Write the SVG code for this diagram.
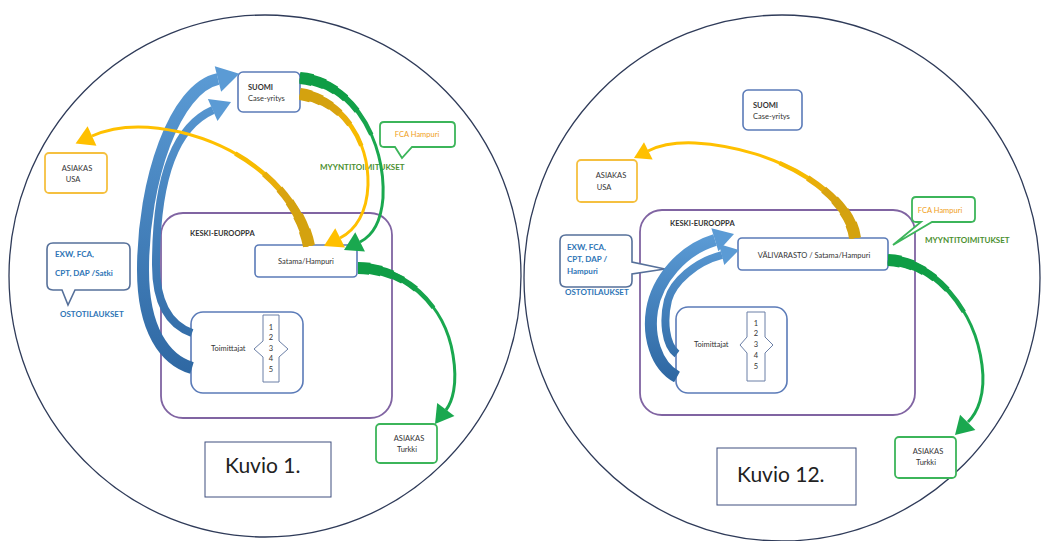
<svg xmlns="http://www.w3.org/2000/svg" xmlns:xlink="http://www.w3.org/1999/xlink" width="1045" height="541" viewBox="0 0 1045 541">
<style>
.circ{fill:none;stroke:#2f3b59;stroke-width:1.3}
.box{fill:#fff;stroke:#5b7bb8;stroke-width:1.6}
.cont{fill:none;stroke:#8064a2;stroke-width:1.8}
.ybox{fill:#fff;stroke:#f5c040;stroke-width:1.8}
.gbox{fill:#fff;stroke:#3cb55a;stroke-width:1.8}
.kbox{fill:#fff;stroke:#3f4f7f;stroke-width:1}
.bcall{fill:#fff;stroke:#56709a;stroke-width:1.6}
.t{font-family:Lato,"Liberation Sans",sans-serif;font-size:7.5px;fill:#333}
.b{font-weight:bold}
.blue{fill:#2e75b6;font-weight:bold;font-size:8px}
.grn{fill:#4b8f2f;font-weight:bold;font-size:8px}
.org{fill:#f0a020}
.k{font-family:Lato,"Liberation Sans",sans-serif;font-size:21px;fill:#222}
.ln{fill:none;stroke-linecap:butt}
.col{fill:#fff;stroke:#6b7fa6;stroke-width:1}
.y0{stroke:#ffc000;stroke-width:3}
.y1{stroke:#f7bb00;stroke-width:4.5;stroke-dasharray:45 200}
.y2{stroke:#e8ae0a;stroke-width:6;stroke-dasharray:32 200}
.y3{stroke:#d9a30f;stroke-width:7.5;stroke-dasharray:24 200}
.y4{stroke:#d4a20f;stroke-width:9;stroke-dasharray:18 200}
.y5{stroke:#d4a20f;stroke-width:10.5;stroke-dasharray:12 200}
.y6{stroke:#d4a20f;stroke-width:12;stroke-dasharray:6 200}
.g0{stroke:#1aa84f;stroke-width:3}
.g1{stroke:#17a44c;stroke-width:4.5;stroke-dasharray:45 200}
.g2{stroke:#13a049;stroke-width:6;stroke-dasharray:32 200}
.g3{stroke:#0f9d45;stroke-width:7.5;stroke-dasharray:24 200}
.g4{stroke:#0f9d45;stroke-width:9;stroke-dasharray:18 200}
.g5{stroke:#0f9d45;stroke-width:10.5;stroke-dasharray:12 200}
.g6{stroke:#0f9d45;stroke-width:12;stroke-dasharray:6 200}
</style>
<defs>
<linearGradient id="bg1" gradientUnits="userSpaceOnUse" x1="0" y1="380" x2="0" y2="70">
<stop offset="0" stop-color="#2e67a2"/><stop offset="1" stop-color="#5b9bd5"/>
</linearGradient>
<linearGradient id="bg2" gradientUnits="userSpaceOnUse" x1="0" y1="380" x2="0" y2="235">
<stop offset="0" stop-color="#2e67a2"/><stop offset="1" stop-color="#5b9bd5"/>
</linearGradient>
<polygon id="ah" points="0,0 -1,-0.6 -1,0.6"/>
<path id="py1" pathLength="100" d="M309,246 C300,200 255,150 180,132 C140,123 112,127 92,136"/>
<path id="py2" pathLength="100" d="M300,94 C342,100 369,140 368,185 C367,212 356,230 340,238"/>
<path id="pg1" pathLength="100" d="M300,78 C352,82 386,140 383,198 C381,222 372,236 360,242"/>
<path id="pg2" pathLength="100" d="M358,268 C405,268 445,305 453,355 C458,385 452,402 446,410"/>
<path id="py3" pathLength="100" d="M855,238 C850,195 780,148 695,143 C672,142 658,146 648,151"/>
<path id="pg3" pathLength="100" d="M888,260 C935,262 975,310 982,365 C986,395 977,413 968,422"/>
</defs>
<rect width="1045" height="541" fill="#fff"/>
<ellipse class="circ" cx="265" cy="276" rx="256" ry="261"/>
<ellipse class="circ" cx="782" cy="278" rx="258" ry="263"/>

<!-- Left diagram nodes -->
<g id="keski1"><rect class="cont" x="161" y="213" width="231" height="205" rx="22"/><text class="t b" x="190" y="236">KESKI-EUROOPPA</text></g>
<g id="suomi1"><rect class="box" x="238" y="72" width="62" height="40" rx="5"/><text class="t b" x="248" y="90">SUOMI</text><text class="t" x="248" y="101">Case-yritys</text></g>
<g id="usa1"><rect class="ybox" x="45" y="153" width="62" height="40" rx="4"/><text class="t" x="77" y="171" text-anchor="middle">ASIAKAS</text><text class="t" x="73" y="182" text-anchor="middle">USA</text></g>
<g id="fca1"><path class="gbox" d="M384,122 H451 Q455,122 455,126 V143 Q455,147 451,147 H412 L402,158 L395,147 H384 Q380,147 380,143 V126 Q380,122 384,122 Z"/><text class="t org" x="417" y="137" text-anchor="middle">FCA Hampuri</text></g>
<g id="myynti1"><text class="t grn" x="320" y="170">MYYNTITOIMITUKSET</text></g>
<g id="satama1"><rect class="box" x="255" y="245" width="102" height="32" rx="4"/><text class="t" x="306" y="264" text-anchor="middle">Satama/Hampuri</text></g>
<g id="ehdot1"><path class="bcall" d="M53,243 H124 Q130,243 130,249 V284 Q130,290 124,290 H75 L68,305 L62,290 H53 Q47,290 47,284 V249 Q47,243 53,243 Z"/><text class="t blue" x="55" y="257">EXW, FCA,</text><text class="t blue" x="55" y="276">CPT, DAP /Satki</text></g>
<g id="osto1"><text class="t blue" x="60" y="317">OSTOTILAUKSET</text></g>
<g id="toim1"><rect class="box" x="191" y="312" width="112" height="81" rx="12"/><text class="t" x="211" y="351">Toimittajat</text>
<path class="col" d="M263,315 H279 V341 L288,349 L279,357 V382 H263 V357 L254,349 L263,341 Z"/>
<text class="t" x="271" y="330" text-anchor="middle">1</text><text class="t" x="271" y="340" text-anchor="middle">2</text><text class="t" x="271" y="351" text-anchor="middle">3</text><text class="t" x="271" y="361" text-anchor="middle">4</text><text class="t" x="271" y="372" text-anchor="middle">5</text></g>
<g id="turkki1"><rect class="gbox" x="376" y="424" width="61" height="39" rx="4"/><text class="t" x="409" y="441" text-anchor="middle">ASIAKAS</text><text class="t" x="407" y="452" text-anchor="middle">Turkki</text></g>
<g id="kuvio1"><rect class="kbox" x="205" y="442" width="126" height="55"/><text class="k" x="225" y="473">Kuvio 1.</text></g>

<!-- Right diagram nodes -->
<g id="keski2"><rect class="cont" x="640" y="210" width="275" height="205" rx="22"/><text class="t b" x="670" y="226">KESKI-EUROOPPA</text></g>
<g id="suomi2"><rect class="box" x="743" y="90" width="59" height="40" rx="5"/><text class="t b" x="753" y="108">SUOMI</text><text class="t" x="753" y="119">Case-yritys</text></g>
<g id="usa2"><rect class="ybox" x="577" y="160" width="60" height="42" rx="4"/><text class="t" x="611" y="178" text-anchor="middle">ASIAKAS</text><text class="t" x="604" y="190" text-anchor="middle">USA</text></g>
<g id="fca2"><path class="gbox" d="M916,197 H971 Q975,197 975,201 V218 Q975,222 971,222 H932 L893,245 L921,222 H916 Q912,222 912,218 V201 Q912,197 916,197 Z"/><text class="t org" x="940" y="213" text-anchor="middle">FCA Hampuri</text></g>
<g id="myynti2"><text class="t grn" x="925" y="243">MYYNTITOIMITUKSET</text></g>
<g id="vali2"><rect class="box" x="738" y="238" width="150" height="32" rx="4"/><text class="t" x="814" y="258" text-anchor="middle">VÄLIVARASTO / Satama/Hampuri</text></g>
<g id="ehdot2"><path class="bcall" d="M566,235 H626 Q632,235 632,241 V262 L665,269 L632,274 V281 Q632,287 626,287 H566 Q560,287 560,281 V241 Q560,235 566,235 Z"/><text class="t blue" x="567" y="250">EXW, FCA,</text><text class="t blue" x="567" y="262">CPT, DAP /</text><text class="t blue" x="567" y="274">Hampuri</text></g>
<g id="osto2"><text class="t blue" x="565" y="295">OSTOTILAUKSET</text></g>
<g id="toim2"><rect class="box" x="676" y="307" width="111" height="86" rx="12"/><text class="t" x="694" y="347">Toimittajat</text>
<path class="col" d="M747,312 H765 V337 L773,345 L765,353 V381 H747 V353 L740,345 L747,337 Z"/>
<text class="t" x="756" y="326" text-anchor="middle">1</text><text class="t" x="756" y="336" text-anchor="middle">2</text><text class="t" x="756" y="347" text-anchor="middle">3</text><text class="t" x="756" y="358" text-anchor="middle">4</text><text class="t" x="756" y="369" text-anchor="middle">5</text></g>
<g id="turkki2"><rect class="gbox" x="895" y="437" width="61" height="41" rx="4"/><text class="t" x="928" y="454" text-anchor="middle">ASIAKAS</text><text class="t" x="926" y="465" text-anchor="middle">Turkki</text></g>
<g id="kuvio12"><rect class="kbox" x="717" y="448" width="139" height="57"/><text class="k" x="737" y="482">Kuvio 12.</text></g>

<g id="connectors">
<!-- left blue -->
<path class="ln" stroke="url(#bg1)" stroke-width="12" d="M192,368 C165,360 143,330 143,270 C143,180 175,88 218,79"/>
<use href="#ah" fill="#5b9bd5" transform="translate(239.3,73.7) rotate(-14) scale(22)"/>
<path class="ln" stroke="url(#bg1)" stroke-width="8" d="M192,333 C170,325 156,305 156,265 C156,185 172,128 213,110"/>
<use href="#ah" fill="#5b9bd5" transform="translate(231,102) rotate(-23.7) scale(20)"/>
<!-- left yellow to USA -->
<use href="#py1" class="ln y0"/><use href="#py1" class="ln y1"/><use href="#py1" class="ln y2"/><use href="#py1" class="ln y3"/><use href="#py1" class="ln y4"/><use href="#py1" class="ln y5"/><use href="#py1" class="ln y6"/>
<use href="#ah" fill="#ffc000" transform="translate(75.6,143.4) rotate(155.8) scale(18)"/>
<!-- left gold SUOMI to Satama -->
<use href="#py2" class="ln y0"/><use href="#py2" class="ln y1"/><use href="#py2" class="ln y2"/><use href="#py2" class="ln y3"/><use href="#py2" class="ln y4"/><use href="#py2" class="ln y5"/><use href="#py2" class="ln y6"/>
<use href="#ah" fill="#ffc000" transform="translate(324,246) rotate(153.4) scale(18)"/>
<!-- left green SUOMI to Satama -->
<use href="#pg1" class="ln g0"/><use href="#pg1" class="ln g1"/><use href="#pg1" class="ln g2"/><use href="#pg1" class="ln g3"/><use href="#pg1" class="ln g4"/><use href="#pg1" class="ln g5"/><use href="#pg1" class="ln g6"/>
<use href="#ah" fill="#1aa84f" transform="translate(344,250) rotate(153.4) scale(18)"/>
<!-- left green Satama to Turkki -->
<use href="#pg2" class="ln g0"/><use href="#pg2" class="ln g1"/><use href="#pg2" class="ln g2"/><use href="#pg2" class="ln g3"/><use href="#pg2" class="ln g4"/><use href="#pg2" class="ln g5"/><use href="#pg2" class="ln g6"/>
<use href="#ah" fill="#1aa84f" transform="translate(435,424) rotate(126.9) scale(18)"/>
<!-- right blue -->
<path class="ln" stroke="url(#bg2)" stroke-width="12" d="M677,377 C655,365 648,335 652,310 C657,280 682,250 715,240"/>
<use href="#ah" fill="#5b9bd5" transform="translate(734,234) rotate(-16.9) scale(20)"/>
<path class="ln" stroke="url(#bg2)" stroke-width="8" d="M677,354 C665,345 663,320 668,300 C673,282 695,262 722,255"/>
<use href="#ah" fill="#5b9bd5" transform="translate(739,250) rotate(-14.5) scale(18)"/>
<!-- right yellow to USA -->
<use href="#py3" class="ln y0"/><use href="#py3" class="ln y1"/><use href="#py3" class="ln y2"/><use href="#py3" class="ln y3"/><use href="#py3" class="ln y4"/><use href="#py3" class="ln y5"/><use href="#py3" class="ln y6"/>
<use href="#ah" fill="#ffc000" transform="translate(634,158) rotate(153.4) scale(16)"/>
<!-- right green to Turkki -->
<use href="#pg3" class="ln g0"/><use href="#pg3" class="ln g1"/><use href="#pg3" class="ln g2"/><use href="#pg3" class="ln g3"/><use href="#pg3" class="ln g4"/><use href="#pg3" class="ln g5"/><use href="#pg3" class="ln g6"/>
<use href="#ah" fill="#1aa84f" transform="translate(955,435) rotate(135) scale(18)"/>
</g>
</svg>
